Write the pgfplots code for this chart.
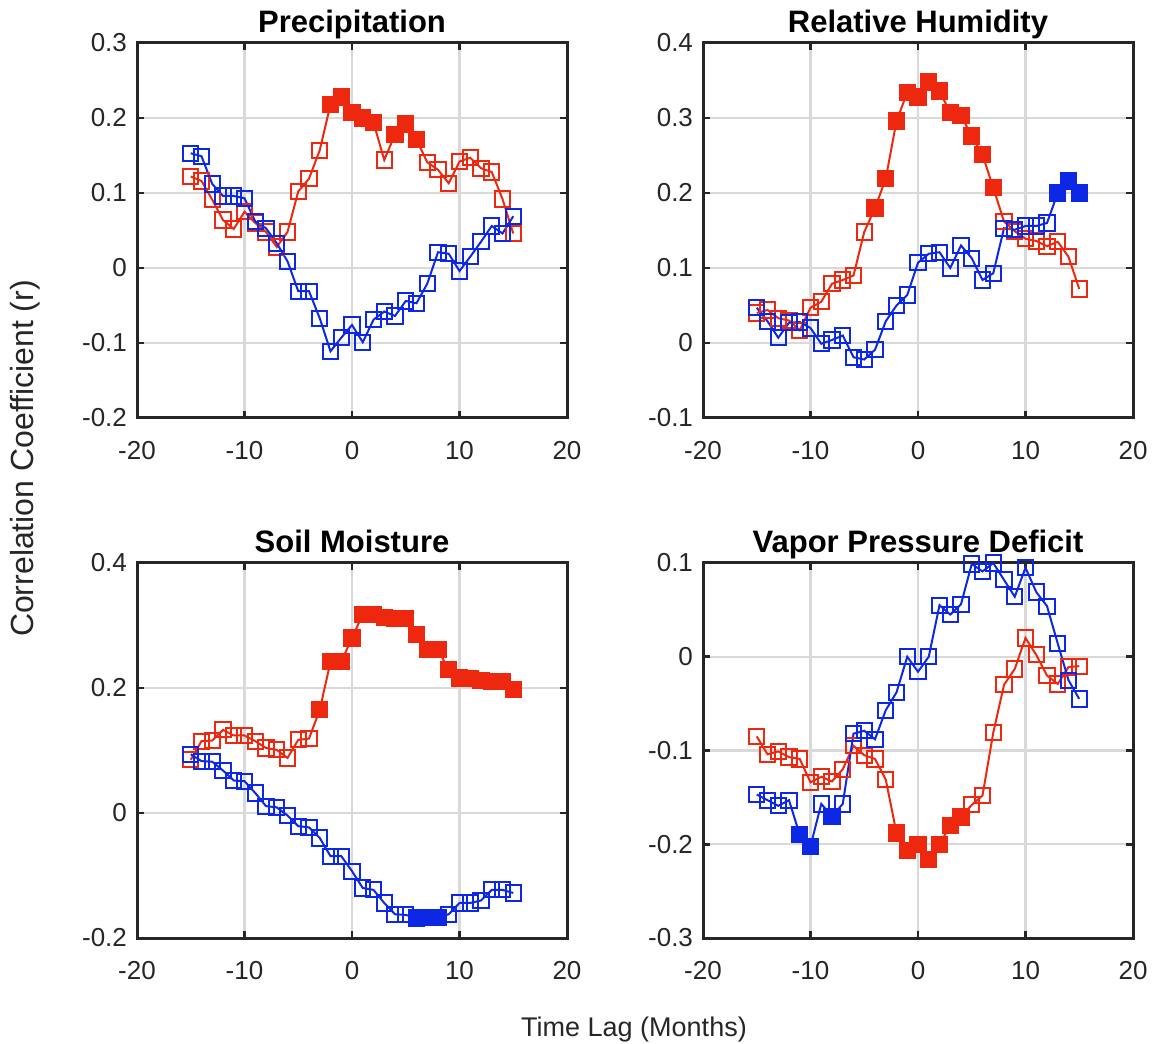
\documentclass[border=0pt]{standalone}
\usepackage{pgfplots}
\pgfplotsset{compat=1.18}
\usepackage{pgfplotstable}
\usepackage{fontspec}
\setmainfont{Liberation Sans}

\definecolor{myred}{RGB}{238,40,14}
\definecolor{myblue}{RGB}{12,40,228}
\definecolor{frame}{RGB}{38,38,38}

% columns: x, red value, red significant (filled), blue value, blue significant (filled)
\pgfplotstableread{
x r rf b bf
-15 0.122 nan 0.153 nan
-14 0.116 nan 0.149 nan
-13 0.091 nan 0.112 nan
-12 0.064 nan 0.096 nan
-11 0.052 nan 0.096 nan
-10 0.075 nan 0.093 nan
-9 0.060 nan 0.062 nan
-8 0.048 nan 0.053 nan
-7 0.028 nan 0.033 nan
-6 0.048 nan 0.009 nan
-5 0.102 nan -0.031 nan
-4 0.119 nan -0.031 nan
-3 0.157 nan -0.067 nan
-2 0.218 0.218 -0.111 nan
-1 0.228 0.228 -0.093 nan
0 0.207 0.207 -0.076 nan
1 0.200 0.200 -0.099 nan
2 0.194 0.194 -0.069 nan
3 0.144 nan -0.058 nan
4 0.178 0.178 -0.064 nan
5 0.192 0.192 -0.044 nan
6 0.171 0.171 -0.047 nan
7 0.141 nan -0.021 nan
8 0.131 nan 0.021 nan
9 0.113 nan 0.019 nan
10 0.142 nan -0.004 nan
11 0.147 nan 0.015 nan
12 0.133 nan 0.035 nan
13 0.128 nan 0.056 nan
14 0.092 nan 0.046 nan
15 0.046 nan 0.069 nan
}\tPrec

\pgfplotstableread{
x r rf b bf
-15 0.040 nan 0.047 nan
-14 0.044 nan 0.029 nan
-13 0.033 nan 0.007 nan
-12 0.030 nan 0.027 nan
-11 0.017 nan 0.028 nan
-10 0.047 nan 0.020 nan
-9 0.055 nan -0.001 nan
-8 0.079 nan 0.004 nan
-7 0.084 nan 0.010 nan
-6 0.090 nan -0.019 nan
-5 0.148 nan -0.022 nan
-4 0.180 0.180 -0.009 nan
-3 0.219 0.219 0.029 nan
-2 0.296 0.296 0.050 nan
-1 0.334 0.334 0.064 nan
0 0.328 0.328 0.107 nan
1 0.348 0.348 0.119 nan
2 0.336 0.336 0.121 nan
3 0.307 0.307 0.100 nan
4 0.303 0.303 0.130 nan
5 0.276 0.276 0.113 nan
6 0.251 0.251 0.084 nan
7 0.207 0.207 0.093 nan
8 0.162 nan 0.153 nan
9 0.149 nan 0.151 nan
10 0.139 nan 0.156 nan
11 0.136 nan 0.156 nan
12 0.129 nan 0.160 nan
13 0.135 nan 0.200 0.200
14 0.115 nan 0.216 0.216
15 0.072 nan 0.200 0.200
}\tRH

\pgfplotstableread{
x r rf b bf
-15 0.085 nan 0.094 nan
-14 0.115 nan 0.083 nan
-13 0.116 nan 0.082 nan
-12 0.133 nan 0.068 nan
-11 0.124 nan 0.052 nan
-10 0.124 nan 0.051 nan
-9 0.115 nan 0.032 nan
-8 0.104 nan 0.011 nan
-7 0.101 nan 0.009 nan
-6 0.088 nan -0.004 nan
-5 0.117 nan -0.021 nan
-4 0.119 nan -0.023 nan
-3 0.165 0.165 -0.040 nan
-2 0.242 0.242 -0.069 nan
-1 0.242 0.242 -0.069 nan
0 0.280 0.280 -0.093 nan
1 0.318 0.318 -0.120 nan
2 0.318 0.318 -0.123 nan
3 0.313 0.313 -0.144 nan
4 0.311 0.311 -0.162 nan
5 0.311 0.311 -0.163 nan
6 0.286 0.286 -0.168 -0.168
7 0.261 0.261 -0.167 -0.167
8 0.261 0.261 -0.167 -0.167
9 0.229 0.229 -0.162 nan
10 0.216 0.216 -0.144 nan
11 0.215 0.215 -0.144 nan
12 0.212 0.212 -0.140 nan
13 0.211 0.211 -0.123 nan
14 0.210 0.210 -0.123 nan
15 0.198 0.198 -0.128 nan
}\tSM

\pgfplotstableread{
x r rf b bf
-15 -0.085 nan -0.147 nan
-14 -0.104 nan -0.153 nan
-13 -0.101 nan -0.159 nan
-12 -0.107 nan -0.153 nan
-11 -0.109 nan -0.190 -0.190
-10 -0.134 nan -0.202 -0.202
-9 -0.128 nan -0.157 nan
-8 -0.133 nan -0.170 -0.170
-7 -0.120 nan -0.157 nan
-6 -0.095 nan -0.082 nan
-5 -0.105 nan -0.079 nan
-4 -0.109 nan -0.088 nan
-3 -0.131 nan -0.057 nan
-2 -0.188 -0.188 -0.038 nan
-1 -0.207 -0.207 0.000 nan
0 -0.200 -0.200 -0.016 nan
1 -0.216 -0.216 0.000 nan
2 -0.200 -0.200 0.055 nan
3 -0.180 -0.180 0.045 nan
4 -0.171 -0.171 0.056 nan
5 -0.158 nan 0.099 nan
6 -0.148 nan 0.091 nan
7 -0.081 nan 0.100 nan
8 -0.030 nan 0.082 nan
9 -0.013 nan 0.064 nan
10 0.020 nan 0.095 nan
11 0.002 nan 0.069 nan
12 -0.020 nan 0.054 nan
13 -0.029 nan 0.014 nan
14 -0.011 nan -0.025 nan
15 -0.010 nan -0.045 nan
}\tVPD

\pgfplotsset{
  panel/.style={
    scale only axis, width=215pt, height=187.5pt, anchor=south west,
    xmin=-20, xmax=20, xtick={-20,-10,0,10,20},
    clip=false, unbounded coords=discard,
    grid=major,
    major grid style={line width=1.1pt, color=black!15},
    axis line style={line width=1.5pt, color=frame},
    every tick/.style={line width=1.3pt, color=frame},
    major tick length=3.5pt, tick align=inside,
    xtick pos=both, ytick pos=both,
    xticklabel pos=bottom, yticklabel pos=left,
    scaled y ticks=false, scaled x ticks=false,
    /pgf/number format/.cd, fixed, precision=1, assume math mode=true, /pgfplots/.cd,
    tick label style={font=\fontsize{13}{15}\selectfont, color=frame},
    xticklabel style={yshift=-8pt},
    yticklabel style={xshift=-1.5pt},
    title style={font=\fontsize{15.5}{18}\selectfont\bfseries, at={(0.5,1)}, anchor=base, yshift=-1pt},
  },
  redl/.style={color=myred, line width=1pt, mark=square, mark size=3.8pt, mark options={line width=1pt, solid}},
  bluel/.style={color=myblue, line width=1pt, mark=square, mark size=3.8pt, mark options={line width=1pt, solid}},
  redf/.style={only marks, mark=square*, mark size=3.8pt, mark options={draw=myred, fill=myred, line width=1pt, line join=round}},
  bluef/.style={only marks, mark=square*, mark size=3.8pt, mark options={draw=myblue, fill=myblue, line width=1pt, line join=round}},
}

\begin{document}
\begin{tikzpicture}
% Precipitation
\begin{axis}[panel, at={(68.5pt,312.5pt)}, title={Precipitation},
  ymin=-0.2, ymax=0.3, ytick={-0.2,-0.1,0,0.1,0.2,0.3}]
\addplot[redl] table[x=x,y=r]{\tPrec};
\addplot[redf] table[x=x,y=rf]{\tPrec};
\addplot[bluel] table[x=x,y=b]{\tPrec};
\addplot[bluef] table[x=x,y=bf]{\tPrec};
\end{axis}
% Relative Humidity
\begin{axis}[panel, at={(351.5pt,312.5pt)}, title={Relative Humidity},
  ymin=-0.1, ymax=0.4, ytick={-0.1,0,0.1,0.2,0.3,0.4}]
\addplot[redl] table[x=x,y=r]{\tRH};
\addplot[redf] table[x=x,y=rf]{\tRH};
\addplot[bluel] table[x=x,y=b]{\tRH};
\addplot[bluef] table[x=x,y=bf]{\tRH};
\end{axis}
% Soil Moisture
\begin{axis}[panel, at={(68.5pt,52.5pt)}, title={Soil Moisture},
  ymin=-0.2, ymax=0.4, ytick={-0.2,0,0.2,0.4}]
\addplot[redl] table[x=x,y=r]{\tSM};
\addplot[redf] table[x=x,y=rf]{\tSM};
\addplot[bluel] table[x=x,y=b]{\tSM};
\addplot[bluef] table[x=x,y=bf]{\tSM};
\end{axis}
% Vapor Pressure Deficit
\begin{axis}[panel, at={(351.5pt,52.5pt)}, title={Vapor Pressure Deficit},
  ymin=-0.3, ymax=0.1, ytick={-0.3,-0.2,-0.1,0,0.1}]
\addplot[redl] table[x=x,y=r]{\tVPD};
\addplot[redf] table[x=x,y=rf]{\tVPD};
\addplot[bluel] table[x=x,y=b]{\tVPD};
\addplot[bluef] table[x=x,y=bf]{\tVPD};
\end{axis}
\node[rotate=90, anchor=base, font=\fontsize{16}{19}\selectfont, color=frame] at (16.5pt,292.25pt) {Correlation Coefficient (r)};
\node[anchor=base, font=\fontsize{13.5}{16}\selectfont, color=frame] at (317pt,3.5pt) {Time Lag (Months)};
\pgfresetboundingbox
\path[use as bounding box] (0,0) rectangle (577.5pt,521.5pt);
\end{tikzpicture}
\end{document}
